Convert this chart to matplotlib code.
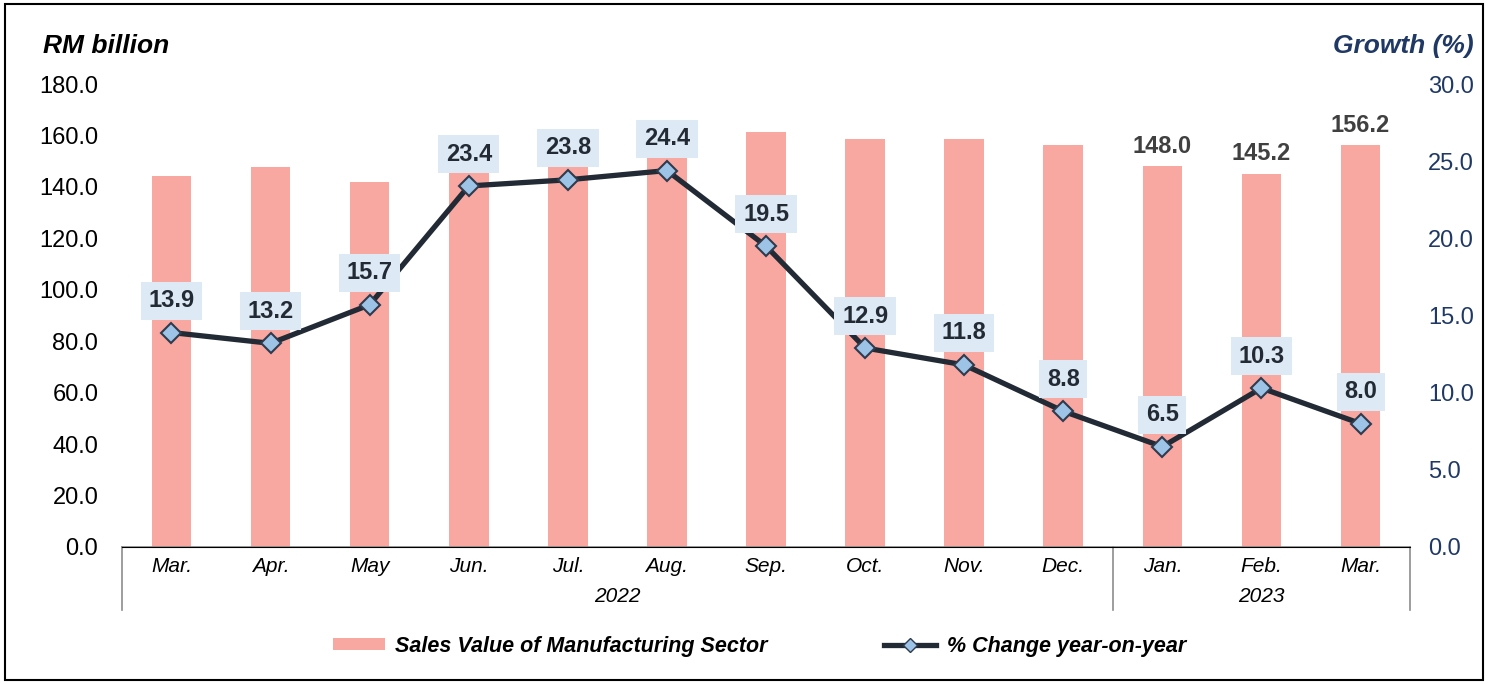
"""
Sales value of manufacturing sector (RM billion, bars) with year-on-year
growth (%, line), Mar. 2022 - Mar. 2023.
"""

import matplotlib

matplotlib.use("Agg")
import matplotlib.pyplot as plt
from matplotlib.lines import Line2D
from matplotlib.patches import Patch, Rectangle
from matplotlib.transforms import blended_transform_factory

plt.rcParams["font.family"] = ["Liberation Sans", "DejaVu Sans"]

months = ["Mar.", "Apr.", "May", "Jun.", "Jul.", "Aug.", "Sep.",
          "Oct.", "Nov.", "Dec.", "Jan.", "Feb.", "Mar."]
years = ["2022", "2023"]
year_sizes = [10, 3]
sales = [144.3, 147.8, 141.9, 146.6, 147.9, 152.5, 161.4,
         158.7, 158.7, 156.3, 148.0, 145.2, 156.2]
growth = [13.9, 13.2, 15.7, 23.4, 23.8, 24.4, 19.5,
          12.9, 11.8, 8.8, 6.5, 10.3, 8.0]
labelled_bars = [10, 11, 12]

BAR_COLOR = "#F9A8A1"
LINE_COLOR = "#222A35"
MARKER_COLOR = "#9DC3E6"
BOX_COLOR = "#DDE9F5"
NAVY = "#1F3864"

fig = plt.figure(figsize=(14.89, 6.84), dpi=100)
ax = fig.add_axes([0.0819, 0.2003, 0.8651, 0.6767])
ax2 = ax.twinx()

x = list(range(len(months)))
bars = ax.bar(x, sales, width=0.4, color=BAR_COLOR, zorder=1)
for i in labelled_bars:
    ax.annotate(f"{sales[i]:.1f}", (x[i], sales[i]), xytext=(0, 6),
                textcoords="offset points", ha="center", va="bottom",
                fontsize=17, fontweight="bold", color="#404040")

ax.set_xlim(-0.5, len(months) - 0.5)
ax.set_ylim(0, 180)
ax.set_yticks(range(0, 181, 20))
ax.set_yticklabels([f"{v:.1f}" for v in range(0, 181, 20)], fontsize=17)
ax.tick_params(axis="y", length=0, pad=17)
ax.set_xticks(x)
ax.set_xticklabels(months, fontsize=15, style="italic")
ax.tick_params(axis="x", length=0, pad=7)

ax2.plot(x, growth, color=LINE_COLOR, lw=3.8, marker="D", markersize=10,
         markerfacecolor=MARKER_COLOR, markeredgecolor="#2E3B4E",
         markeredgewidth=1.5, zorder=3)
for xi, g in zip(x, growth):
    ax2.annotate(f"{g:.1f}", (xi, g), xytext=(0, 23), textcoords="offset points",
                 ha="center", va="center", fontsize=17, fontweight="bold",
                 color=LINE_COLOR, zorder=4,
                 bbox=dict(boxstyle="square,pad=0.32", fc=BOX_COLOR, ec="none"))
ax2.set_ylim(0, 30)
ax2.set_yticks(range(0, 31, 5))
ax2.set_yticklabels([f"{v:.1f}" for v in range(0, 31, 5)], fontsize=17, color=NAVY)
ax2.tick_params(axis="y", length=0, pad=13)

for a in (ax, ax2):
    for side in ("top", "left", "right"):
        a.spines[side].set_visible(False)
ax.spines["bottom"].set_color("#8C8C8C")
ax.spines["bottom"].set_linewidth(1.2)

# year grouping under the month labels
trans = blended_transform_factory(ax.transData, ax.transAxes)
start = -0.5
edges = [start]
for name, n in zip(years, year_sizes):
    ax.text(start + n / 2, -0.108, name, transform=trans, ha="center",
            va="center", fontsize=15, style="italic")
    start += n
    edges.append(start)
for e in edges:
    ax.plot([e, e], [0, -0.136], transform=trans, color="#8C8C8C", lw=1.2,
            clip_on=False)

fig.text(0.029, 0.933, "RM billion", fontsize=19, fontweight="bold",
         style="italic", va="center")
fig.text(0.990, 0.933, "Growth (%)", fontsize=19, fontweight="bold",
         style="italic", va="center", ha="right", color=NAVY)

handles = [
    Patch(facecolor=BAR_COLOR, edgecolor="none"),
    Line2D([], [], color=LINE_COLOR, lw=3.8, marker="D", markersize=7,
           markerfacecolor=MARKER_COLOR, markeredgecolor="#2E3B4E"),
]
leg = fig.legend(handles, ["Sales Value of Manufacturing Sector", "% Change year-on-year"],
                 loc="center", bbox_to_anchor=(0.51, 0.055), ncol=2, frameon=False,
                 handlelength=2.4, handleheight=0.5, handletextpad=0.5,
                 columnspacing=5.4, prop=dict(size=15.5, weight="bold", style="italic"))

fig.patches.append(Rectangle((0.0035, 0.006), 0.9925, 0.988, transform=fig.transFigure,
                             fill=False, ec="black", lw=1.5))

fig.savefig("out.png", dpi=100)
